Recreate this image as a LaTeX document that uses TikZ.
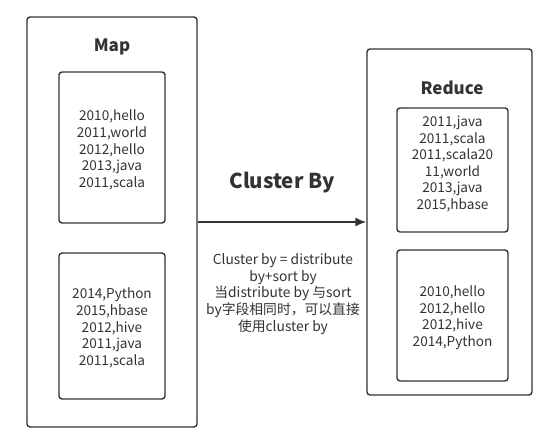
\documentclass[tikz,border=0pt]{standalone}
\usepackage{fontspec}
\setmainfont{Noto Sans CJK SC}
\usepackage{tikz}
\usepackage{xcolor}
\usetikzlibrary{arrows.meta}
\definecolor{ink}{HTML}{333333}

\begin{document}
\begin{tikzpicture}[x=1pt,y=-1pt,
  box/.style={draw=ink,line width=1.4pt,rounded corners=3pt,inner sep=0pt},
  data/.style={text=ink,font=\fontsize{13.6}{16.6}\selectfont,align=center},
  title/.style={text=ink,font=\fontsize{17}{20}\selectfont\bfseries}]
  \useasboundingbox (0,0) rectangle (554,443);
  \fill[white] (0,0) rectangle (554,443);
  % Map side
  \node[box,minimum width=170,minimum height=410] (map) at (112,222) {};
  \node[title] (maptitle) at (112,47) {Map};
  \node[box,minimum width=106,minimum height=151] (m1) at (112,147.5) {};
  \node[data] at (112,150) {2010,hello\\2011,world\\2012,hello\\2013,java\\2011,scala};
  \node[box,minimum width=106,minimum height=146] (m2) at (112,326) {};
  \node[data] at (112,328) {2014,Python\\2015,hbase\\2012,hive\\2011,java\\2011,scala};
  % Reduce side
  \node[box,minimum width=165,minimum height=346] (reduce) at (449.5,222) {};
  \node[title] (redtitle) at (452,88) {Reduce};
  \node[box,minimum width=111,minimum height=124] (r1) at (452.5,170) {};
  \node[data] at (452.5,164) {2011,java\\2011,scala\\2011,scala20\\11,world\\2013,java\\2015,hbase};
  \node[box,minimum width=111,minimum height=131] (r2) at (452.5,315.5) {};
  \node[data] at (452.5,317.5) {2010,hello\\2012,hello\\2012,hive\\2014,Python};
  % shuffle
  \draw[ink,line width=1.4pt,-{Latex[length=11pt,width=9pt]}] (map.east) -- (reduce.west);
  \node[text=ink,font=\fontsize{20.5}{24}\selectfont\bfseries] (cb) at (282,183) {Cluster By};
  \node[data,font=\fontsize{13.8}{16.7}\selectfont] (note) at (283,294)
    {Cluster by = distribute\\by+sort by\\当distribute by 与sort\\by字段相同时，可以直接\\使用cluster by};
\end{tikzpicture}
\end{document}
